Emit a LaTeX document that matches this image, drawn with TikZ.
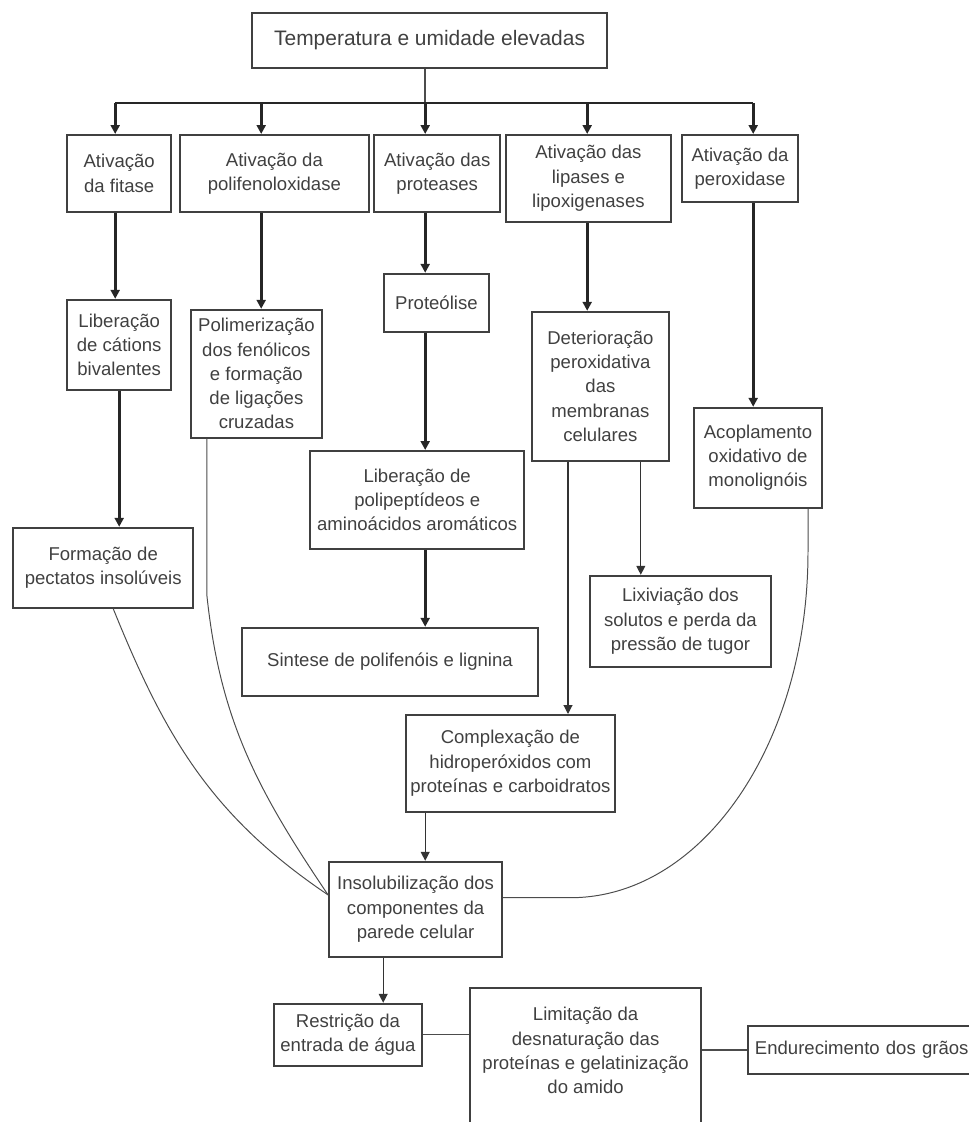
\documentclass[tikz,border=0pt]{standalone}
\usepackage{fontspec}
\setmainfont{Liberation Sans}
\usetikzlibrary{arrows.meta}

\begin{document}
\begin{tikzpicture}[
    caixa/.style={draw=black!75, line width=1.3pt, text=black!75, align=center,
      inner sep=2pt, anchor=north, font=\fontsize{13.2}{17.3}\selectfont},
    seta/.style={draw=black!85, line width=2pt, -{Triangle[length=2.2mm,width=2.2mm]}},
    setafina/.style={draw=black!80, line width=0.8pt, -{Triangle[length=2.2mm,width=2.2mm]}},
    fina/.style={draw=black!70, line width=0.7pt}]
      \useasboundingbox (0,0) rectangle (24.225,28.05);
      \clip (0,0) rectangle (24.225,28.05);
      \node[caixa, font=\fontsize{14.9}{18}\selectfont, minimum width=8.88cm, minimum height=1.38cm] (temp) at (10.74,27.75) {Temperatura e umidade elevadas};
      \node[caixa, minimum width=2.6cm, minimum height=1.93cm] (a1) at (2.98,24.7) {Ativação\\da fitase};
      \node[caixa, minimum width=4.73cm, minimum height=1.93cm] (a2) at (6.86,24.7) {Ativação da\\polifenoloxidase};
      \node[caixa, minimum width=3.15cm, minimum height=1.93cm] (a3) at (10.93,24.7) {Ativação das\\proteases};
      \node[caixa, minimum width=4.13cm, minimum height=2.18cm] (a4) at (14.71,24.7) {Ativação das\\lipases e\\lipoxigenases};
      \node[caixa, minimum width=2.9cm, minimum height=1.68cm] (a5) at (18.5,24.7) {Ativação da\\peroxidase};
      \node[caixa, minimum width=2.6cm, minimum height=2.25cm] (l1) at (2.98,20.58) {Liberação\\de cátions\\bivalentes};
      \node[caixa, minimum width=3.28cm, minimum height=3.2cm] (p) at (6.41,20.33) {Polimerização\\dos fenólicos\\e formação\\de ligações\\cruzadas};
      \node[caixa, minimum width=2.63cm, minimum height=1.45cm] (pr) at (10.91,21.23) {Proteólise};
      \node[caixa, minimum width=3.43cm, minimum height=3.73cm] (d) at (15.01,20.28) {Deterioração\\peroxidativa\\das\\membranas\\celulares};
      \node[caixa, minimum width=3.2cm, minimum height=2.5cm] (ac) at (18.95,17.88) {Acoplamento\\oxidativo de\\monolignóis};
      \node[caixa, minimum width=4.5cm, minimum height=2cm] (f) at (2.58,14.88) {Formação de\\pectatos insolúveis};
      \node[caixa, minimum width=5.35cm, minimum height=2.45cm] (lp) at (10.43,16.8) {Liberação de\\polipeptídeos e\\aminoácidos aromáticos};
      \node[caixa, minimum width=7.4cm, minimum height=1.7cm] (s) at (9.75,12.38) {Sintese de polifenóis e lignina};
      \node[caixa, minimum width=4.53cm, minimum height=2.28cm] (lx) at (17.01,13.68) {Lixiviação dos\\solutos e perda da\\pressão de tugor};
      \node[caixa, minimum width=5.23cm, minimum height=2.43cm] (c) at (12.76,10.2) {Complexação de\\hidroperóxidos com\\proteínas e carboidratos};
      \node[caixa, minimum width=4.33cm, minimum height=2.38cm] (i) at (10.39,6.53) {Insolubilização dos\\componentes da\\parede celular};
      \node[caixa, minimum width=3.7cm, minimum height=1.55cm] (r) at (8.7,2.98) {Restrição da\\entrada de água};
      \node[caixa, minimum width=5.78cm, minimum height=3.75cm] (li) at (14.64,3.38) {Limitação da\\desnaturação das\\proteínas e gelatinização\\do amido\\~};
      \node[caixa, anchor=north west, text width=5.6cm, align=left, inner xsep=5pt, minimum height=1.2cm] (e) at (18.675,2.43) {Endurecimento dos grãos};

      \coordinate (b1) at (2.88,25.48);
      \coordinate (b2) at (6.53,25.48);
      \coordinate (b3) at (10.63,25.48);
      \coordinate (b4) at (14.68,25.48);
      \coordinate (b5) at (18.83,25.48);
      \draw[fina, line width=1.2pt] (temp.south -| b3) -- (b3);
      \draw[black!85, line width=1.6pt] (b1) -- (b5);
      \foreach \b/\n in {b1/a1,b2/a2,b3/a3,b4/a4,b5/a5}
        \draw[seta] (\b) -- (\b |- \n.north);

      \draw[seta] (a1.south -| b1) -- (l1.north -| b1);
      \draw[seta] (a2.south -| b2) -- (p.north -| b2);
      \draw[seta] (a3.south -| b3) -- (pr.north -| b3);
      \draw[seta] (pr.south -| b3) -- (lp.north -| b3);
      \draw[seta] (lp.south -| b3) -- (s.north -| b3);
      \draw[seta] (a4.south -| b4) -- (d.north -| b4);
      \draw[seta] (a5.south -| b5) -- (ac.north -| b5);
      \draw[seta] (l1.south) -- (l1.south |- f.north);

      \draw[setafina] ([xshift=-8.1mm]d.south) -- ([xshift=-8.1mm]d.south |- c.north);
      \draw[setafina] ([xshift=10.1mm]d.south) -- ([xshift=10.1mm]d.south |- lx.north);
      \draw[setafina] (c.south -| b3) -- (i.north -| b3);
      \draw[setafina] ([xshift=-8.1mm]i.south) -- ([xshift=-8.1mm]i.south |- r.north);
      \draw[fina] (r.east) -- (r.east -| li.west);
      \draw[fina, line width=1.2pt] (e.west -| li.east) -- (e.west);

      \draw[fina] ([xshift=2.5mm]f.south) to[out=-68,in=146] ([yshift=3.6mm]i.west);
      \draw[fina] ([xshift=-12.4mm]p.south) -- ++(0,-3.9) to[out=-84,in=124] ([yshift=3.6mm]i.west);
      \draw[fina] ([xshift=12.5mm]ac.south) -- ++(0,-1.08)
        .. controls +(0,-4.8) and +(3.3,0) .. ([xshift=16.8mm,yshift=2.9mm]i.east)
        -- ([yshift=2.9mm]i.east);
    \end{tikzpicture}
\end{document}
